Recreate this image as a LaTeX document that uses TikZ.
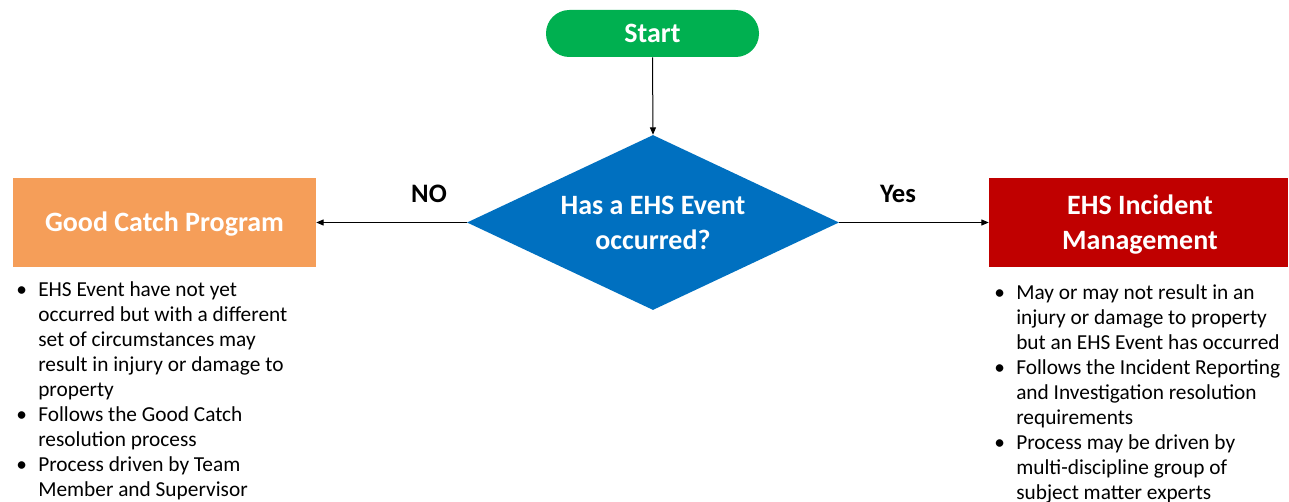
\documentclass[tikz,border=0pt]{standalone}
\usepackage{fontspec}
\setmainfont{Carlito}
\usetikzlibrary{shapes.geometric,arrows.meta}
\definecolor{startgreen}{HTML}{00B050}
\definecolor{decblue}{HTML}{0070C0}
\definecolor{gcorange}{HTML}{F59E59}
\definecolor{incred}{HTML}{C00000}
\newcommand{\bul}{\llap{\textbullet\hspace{8.5pt}}}
\tikzset{
  box/.style={draw=none, minimum width=#1, inner sep=0pt, align=center,
    text=white, font=\fontsize{21}{26.25}\selectfont\bfseries},
  boxtext/.style={text=white, font=\fontsize{21}{26.25}\selectfont\bfseries, align=center, inner sep=0pt},
  flow/.style={draw=black, line width=0.75pt, -{Triangle[length=5.5pt,width=4.5pt]}},
  lbl/.style={font=\fontsize{20}{24}\selectfont\bfseries, inner sep=0pt},
  blist/.style={anchor=base west, align=left, inner sep=0pt,
    font=\fontsize{16}{18.75}\selectfont}
}
\begin{document}
\begin{tikzpicture}[x=0.75pt,y=-0.75pt]
\useasboundingbox (0,0) rectangle (1289,502);
\node[box=159.75pt, fill=startgreen, rounded corners=17.5pt, minimum height=35.25pt] (start) at (652.5,33.5) {Start};
\node[box=279pt, fill=decblue, diamond, minimum height=131.25pt, aspect=2.13] (dec) at (653,222.5) {};
\node[boxtext] (dectext) at (653,223) {Has a EHS Event\\occurred?};
\node[box=227.25pt, fill=gcorange, minimum height=66.75pt] (gc) at (164.5,222.5) {};
\node[boxtext] (gctext) at (164.5,224.5) {Good Catch Program};
\node[box=224.25pt, fill=incred, minimum height=66.75pt] (inc) at (1138.5,222.5) {};
\node[boxtext] (inctext) at (1140,224.5) {EHS Incident\\Management};
\draw[flow] (start.south) -- (dec.north);
\draw[flow] (dec.west) -- (gc.east);
\draw[flow] (dec.east) -- (inc.west);
\node[lbl] (no) at (429,194) {NO};
\node[lbl] (yes) at (898,194) {Yes};
\node[blist] (gclist) at (38,496) {\bul EHS Event have not yet\\
occurred but with a different\\
set of circumstances may\\
result in injury or damage to\\
property\\
\bul Follows the Good Catch\\
resolution process\\
\bul Process driven by Team\\
Member and Supervisor};
\node[blist] (inclist) at (1016,499) {\bul May or may not result in an\\
injury or damage to property\\
but an EHS Event has occurred\\
\bul Follows the Incident Reporting\\
and Investigation resolution\\
requirements\\
\bul Process may be driven by\\
multi-discipline group of\\
subject matter experts};
\end{tikzpicture}
\end{document}
